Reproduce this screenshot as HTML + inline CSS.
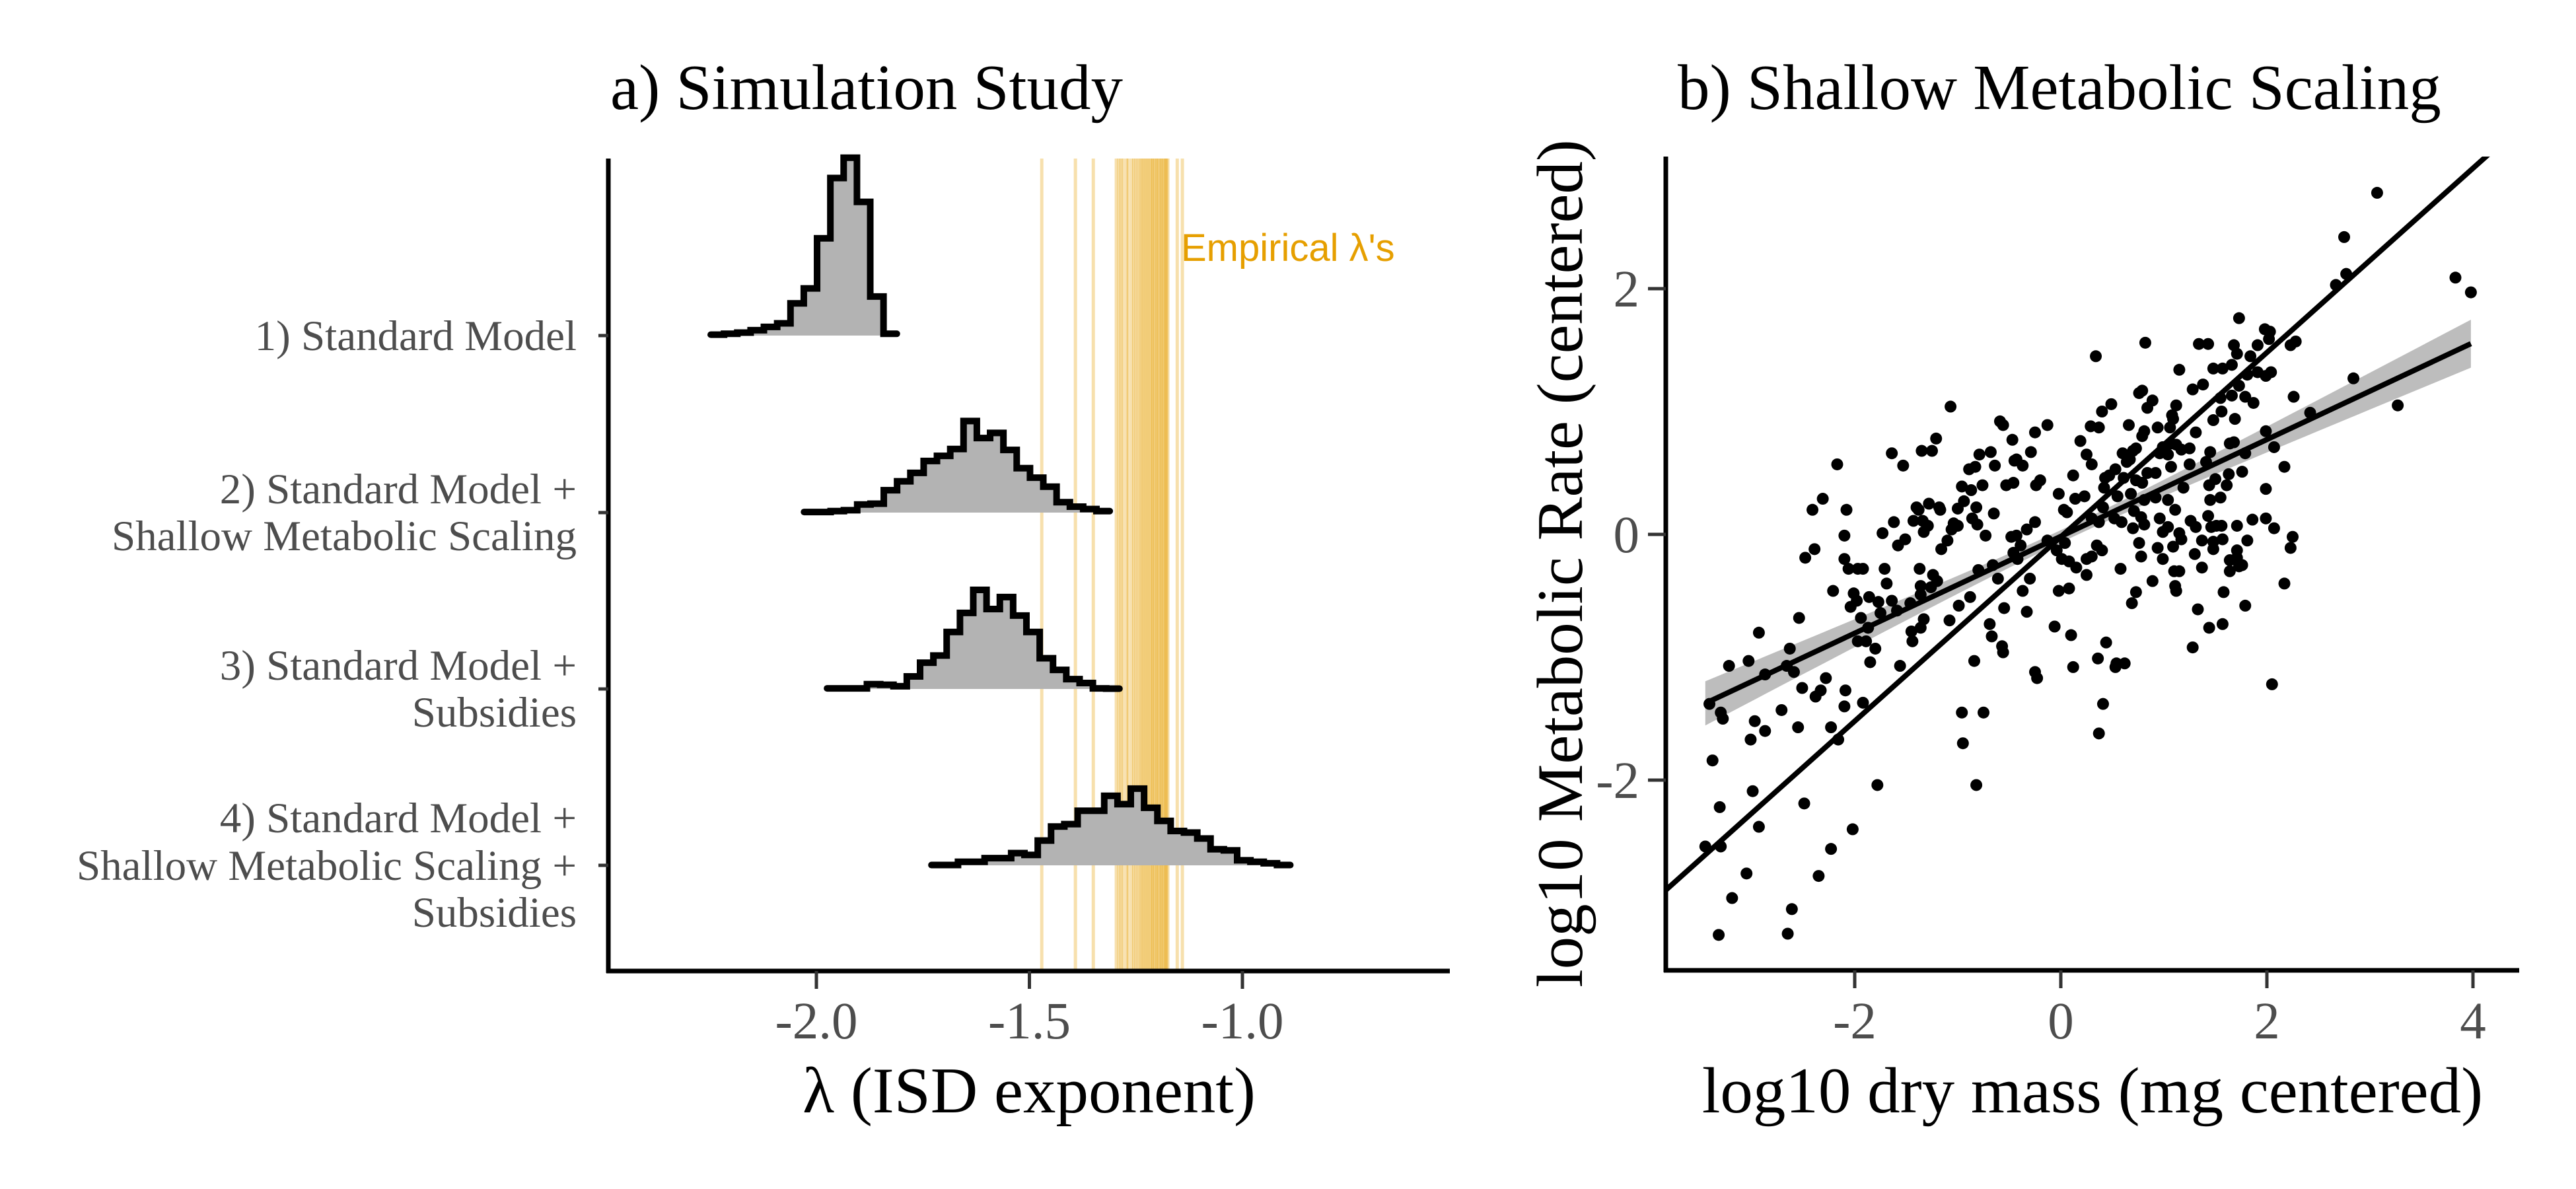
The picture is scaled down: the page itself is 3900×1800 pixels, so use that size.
<!DOCTYPE html>
<html><head><meta charset="utf-8"><style>
html,body{margin:0;padding:0;background:#fff;}
svg{display:block;}
text{font-family:"Liberation Serif",serif;}
</style></head><body>
<svg id="fig" width="3900" height="1800" viewBox="0 0 3900 1800" xmlns="http://www.w3.org/2000/svg">
<defs><clipPath id="clipB"><rect x="2522" y="237" width="1292" height="1232"/></clipPath></defs>
<text x="924" y="165" font-size="97" fill="#000">a) Simulation Study</text>
<text x="2540" y="165" font-size="97" fill="#000">b) Shallow Metabolic Scaling</text>
<g id="panelA"></g>
<g id="panelB"></g>
</svg>
<script>
// ---------- Panel A data ----------
const models = ["1) Standard Model","2) Standard Model +|Shallow Metabolic Scaling","3) Standard Model +|Subsidies","4) Standard Model +|Shallow Metabolic Scaling +|Subsidies"];
const binWidth = 0.0312;
const histStart = [-2.248, -2.029, -1.975, -1.730];
const hist1 = [3,6,10,18,29,41,108,158,326,528,596,448,131,6];
const hist2 = [2,2,5,8,27,30,75,105,133,173,190,213,307,250,267,210,149,117,87,35,20,12,5];
const hist3 = [2,2,2,16,14,9,42,88,112,191,255,332,268,308,246,191,103,64,33,20,2,1];
const hist4 = [1,1,12,12,24,24,41,35,83,130,138,183,183,233,205,257,193,149,115,110,90,54,50,17,12,7,1];
const empirical = [-1.471,-1.392,-1.350,-1.296,-1.29,-1.285,-1.28,-1.272,-1.268,-1.26,-1.255,-1.25,-1.245,-1.24,-1.236,-1.232,-1.228,-1.224,-1.22,-1.216,-1.212,-1.21,-1.206,-1.202,-1.2,-1.196,-1.192,-1.19,-1.186,-1.183,-1.18,-1.178,-1.175,-1.153,-1.141];
const xTicksA = [-2.0,-1.5,-1.0];
const xTickLabelsA = ["-2.0","-1.5","-1.0"];

// ---------- Panel B data ----------
const ptsX = [-3.41,-3.30,-3.28,-3.38,-3.31,-3.45,-3.30,-3.19,-3.32,-3.22,-3.03,-2.93,-2.97,-2.87,-3.01,-2.99,-2.93,-3.05,-2.87,-2.71,-2.66,-2.63,-2.59,-2.55,-2.51,-2.54,-2.48,-2.39,-2.41,-2.31,-2.38,-2.33,-2.28,-2.49,-2.61,-2.65,-2.35,-2.23,-2.23,-2.16,-2.21,-2.17,-2.08,-2.10,-2.10,-2.09,-2.10,-2.06,-2.04,-2.01,-2.02,-1.97,-1.98,-1.94,-1.92,-1.92,-1.97,-1.89,-1.87,-1.85,-1.80,-1.86,-1.77,-1.75,-1.73,-1.71,-1.69,-1.64,-1.64,-1.62,-1.59,-1.58,-1.56,-1.53,-1.51,-1.78,-1.46,-1.45,-1.44,-1.43,-1.40,-1.38,-1.36,-1.36,-1.37,-1.36,-1.35,-1.34,-1.33,-1.33,-1.29,-1.28,-1.26,-1.25,-1.24,-1.21,-1.20,-1.18,-1.17,-1.16,-1.10,-1.07,-1.08,-1.06,-1.04,-1.00,-1.00,-0.99,-0.96,-0.96,-0.95,-0.94,-0.89,-0.88,-0.87,-0.86,-0.84,-0.83,-0.82,-0.81,-0.82,-0.80,-0.79,-0.76,-0.75,-0.73,-0.69,-0.68,-0.67,-0.66,-0.65,-0.64,-0.61,-0.59,-0.56,-0.57,-0.56,-0.55,-0.53,-0.47,-0.46,-0.45,-0.46,-0.48,
-0.43,-0.37,-0.29,-0.25,-0.13,-0.24,-0.20,-0.33,-0.25,-0.43,-0.39,-0.42,-0.30,-0.37,-0.33,-0.25,-0.23,-0.13,-0.06,-0.02,0.03,0.06,0.04,-0.04,0.01,0.08,-0.02,0.08,0.10,0.12,0.12,0.14,0.15,0.19,0.23,0.25,0.30,0.29,0.37,0.40,0.49,0.30,0.37,0.25,0.30,0.25,0.35,0.40,0.42,0.43,0.47,0.41,0.53,0.55,0.52,0.59,0.58,0.61,0.60,0.64,0.66,0.67,0.70,0.73,0.76,0.79,0.84,0.89,0.81,0.79,0.73,0.79,0.84,0.92,0.68,0.81,0.92,0.71,0.78,0.81,0.70,0.76,0.78,0.82,0.34,0.94,0.96,0.99,1.04,1.06,1.08,1.09,1.12,1.07,1.12,1.17,1.25,1.07,1.04,1.11,0.96,0.99,1.04,1.09,1.15,1.17,0.99,0.94,1.10,1.15,1.11,1.12,0.89,0.73,0.69,1.15,1.19,1.25,1.31,1.26,1.31,1.30,1.28,1.33,1.37,1.37,1.34,1.43,1.38,1.28,1.41,1.45,1.48,1.50,1.44,1.45,1.43,1.46,1.48,1.48,1.44,1.51,1.56,1.57,1.57,1.58,1.55,1.61,1.63,1.64,1.68,1.69,1.55,1.56,1.66,1.48,1.57,1.66,1.68,1.71,1.73,1.73,1.79,1.87,1.81,1.91,1.84,1.91,1.99,2.04,1.98,2.03,2.02,2.07,1.99,1.99,1.99,2.07,2.17,2.26,2.23,2.28,1.79,1.76,1.71,1.86,1.81,1.71,1.71,1.64,1.73,1.76,1.64,1.79,2.25,2.23,2.17,2.05,0.37,0.41,0.44,0.36,0.53,0.54,0.62,2.42,2.67,2.77,2.75,3.07,2.84,3.27,3.83,3.98];
const ptsY = [-1.38,-1.45,-1.50,-1.84,-2.22,-2.54,-2.54,-2.96,-3.26,-1.07,-1.03,-0.80,-1.52,-1.60,-1.67,-2.09,-2.38,-2.76,-1.14,-1.43,-1.07,-0.93,-1.12,-1.57,-1.25,-0.68,-0.19,-0.12,0.20,0.29,-1.32,-1.27,-1.17,-2.19,-3.05,-3.25,-2.78,-2.56,-1.57,-1.67,-0.46,0.57,0.20,-0.01,-0.20,-1.27,-1.40,-0.28,-0.59,-0.48,-2.40,-0.28,-0.54,-0.68,-0.28,-1.37,-0.87,-0.87,-0.76,-1.04,-0.93,-0.51,-0.55,-0.64,0.01,-0.28,-0.40,0.66,-0.54,0.10,-0.62,-0.09,-1.07,0.56,-0.04,-2.04,-0.56,-0.79,-0.87,0.11,0.22,0.20,-0.42,-0.49,-0.28,-0.76,0.68,0.11,0.02,-0.69,0.07,0.25,-0.43,0.68,-0.33,0.78,-0.38,0.22,0.20,-0.12,-0.05,1.04,-0.70,0.04,0.09,0.07,0.21,-0.58,0.39,-1.45,-1.70,0.27,0.53,-0.51,0.36,0.13,-1.03,0.55,0.22,0.08,-2.04,-0.29,0.65,0.40,-1.45,-0.01,-0.73,0.67,-0.83,-0.25,0.17,0.56,-0.36,0.92,0.89,-0.91,-0.96,-0.60,0.40,0.77,0.42,0.60,-0.15,-0.02,
0.61,0.56,0.67,0.83,0.89,0.40,0.44,0.04,0.10,-0.01,-0.09,-0.20,-0.36,-0.46,-0.63,-1.12,-1.17,-0.05,-0.75,0.33,0.20,0.18,-0.07,-0.13,-0.20,-0.22,-0.46,-0.44,-0.82,-1.08,0.48,0.29,-0.27,0.76,0.31,0.65,0.57,0.88,0.87,1.00,1.06,0.13,0.10,-0.20,-0.18,-0.33,-0.09,-0.13,0.38,0.46,0.48,0.22,0.53,0.31,0.13,0.10,-0.28,0.46,0.66,0.59,0.89,0.61,0.68,0.70,1.15,1.17,1.03,1.09,0.84,0.80,0.44,0.42,0.50,0.50,0.33,0.28,0.30,0.19,0.14,0.08,0.05,-0.07,-0.18,1.56,1.45,0.87,0.66,0.71,0.65,0.87,0.97,0.94,1.05,0.74,0.73,0.69,0.70,0.55,0.28,0.20,0.13,0.02,0.06,-0.10,0.01,-0.04,-0.20,-0.11,-0.30,-0.30,-0.42,-0.46,-0.38,-0.47,-0.56,1.34,0.38,0.57,0.83,0.11,0.06,-0.16,-0.92,-0.61,-0.05,-0.27,1.55,1.55,1.22,1.18,0.59,0.67,0.93,0.45,0.40,0.28,0.15,0.06,-0.06,-0.12,-0.76,0.07,0.07,-0.04,-0.73,-0.47,0.30,0.40,0.49,0.74,0.75,0.94,1.11,1.00,1.13,1.35,1.35,1.38,1.54,1.47,1.76,1.21,1.12,1.07,1.30,1.32,1.45,1.54,1.29,1.32,1.67,1.65,1.59,0.71,0.84,0.37,0.13,0.05,0.55,1.12,1.54,1.57,0.66,0.51,0.07,0.12,-0.05,-0.13,-0.19,-0.21,-0.26,-0.25,-0.30,-0.58,-0.02,-0.11,-0.40,-1.22,-1.62,-1.38,-0.88,-1.01,-1.08,-1.05,-1.05,0.99,2.03,2.12,2.42,2.78,1.27,1.05,2.09,1.97];
const steepFit = [-0.02, 0.75];     // intercept, slope
const shallowFit = [-0.016, 0.394]; // intercept, slope
const seFit = [0.05, 0.0487, 0.1];   // se at mean, slope of se, mean x
const xTicksB = [-2,0,2,4];
const yTicksB = [-2,0,2];

const NS = "http://www.w3.org/2000/svg";
function mk(tag, attrs, parent){
  const e = document.createElementNS(NS, tag);
  for (const k in attrs) e.setAttribute(k, attrs[k]);
  parent.appendChild(e);
  return e;
}

// ---------- Panel A ----------
const A = document.getElementById('panelA');
const aLeft = 921, aRight = 2195, aTop = 240, aBottom = 1470;
const xA = l => 1236 + (l + 2.0) * 645;
const ridgeBase = [508, 776, 1043, 1310];
const densPx = 1 / 2.214;
const hists = [hist1, hist2, hist3, hist4];

empirical.forEach(v => {
  const ln = mk('line', {x1: xA(v), x2: xA(v), y1: aTop, y2: aBottom, stroke: '#E69F00', 'stroke-width': 5, 'stroke-opacity': 0.32}, A);
  
  
});
const emp = mk('text', {x: 1788, y: 395, 'font-size': 58, fill: '#E69F00', style: 'font-family:"Liberation Sans",sans-serif'}, A);
emp.textContent = "Empirical λ's";



hists.forEach((h, m) => {
  const base = ridgeBase[m];
  const s = histStart[m];
  let pts = [];
  pts.push([xA(s), base]);
  h.forEach((d, i) => {
    const y = base - d * densPx;
    pts.push([xA(s + i * binWidth), y]);
    pts.push([xA(s + (i + 1) * binWidth), y]);
  });
  const xe = xA(s + h.length * binWidth);
  pts.push([xe, base]);
  const poly = mk('polygon', {points: pts.map(p => p.join(',')).join(' '), fill: '#b3b3b3', stroke: 'none'}, A);
  
  
  const outline = mk('polyline', {points: pts.slice(1, -1).map(p => p.join(',')).join(' '), fill: 'none', stroke: '#000', 'stroke-width': 10, 'stroke-linejoin': 'miter', 'stroke-linecap': 'round'}, A);
  
  
});

const axA1 = mk('line', {x1: aLeft, x2: aLeft, y1: aTop, y2: aBottom + 3, stroke: '#000', 'stroke-width': 7}, A);


const axA2 = mk('line', {x1: aLeft - 3, x2: aRight, y1: aBottom, y2: aBottom, stroke: '#000', 'stroke-width': 7}, A);



models.forEach((lab, m) => {
  const t = ridgeBase[m];
  const tk = mk('line', {x1: aLeft - 15, x2: aLeft, y1: t, y2: t, stroke: '#333', 'stroke-width': 5}, A);
  
  
  const lines = lab.split('|');
  const offs = lines.length === 1 ? [22] : lines.length === 2 ? [-14, 57] : [-50, 22, 93];
  lines.forEach((ln, j) => {
    const tx = mk('text', {x: 873, y: t + offs[j], 'font-size': 65, fill: '#4d4d4d', 'text-anchor': 'end'}, A);
    tx.textContent = ln;
    
    
  });
});

xTicksA.forEach((v, i) => {
  const tk = mk('line', {x1: xA(v), x2: xA(v), y1: aBottom, y2: aBottom + 27, stroke: '#333', 'stroke-width': 5}, A);
  
  
  const tl = mk('text', {x: xA(v), y: 1572, 'font-size': 79, fill: '#4d4d4d', 'text-anchor': 'middle'}, A);
  tl.textContent = xTickLabelsA[i];
  
  
});
const xtA = mk('text', {x: (aLeft + aRight) / 2, y: 1684, 'font-size': 99, fill: '#000', 'text-anchor': 'middle'}, A);
xtA.textContent = 'λ (ISD exponent)';



// ---------- Panel B ----------
const B = document.getElementById('panelB');
const bLeft = 2522, bRight = 3814, bTop = 237, bBottom = 1469;
const xB = v => 3120 + v * 156;
const yB = v => 809 - v * 186;

const clipG = mk('g', {'clip-path': 'url(#clipB)'}, B);



const xmin = Math.min(...ptsX), xmax = Math.max(...ptsX);
let up = [], dn = [];
for (let k = 0; k <= 60; k++) {
  const x = xmin + (xmax - xmin) * k / 60;
  const f = shallowFit[0] + shallowFit[1] * x;
  const se = Math.sqrt(seFit[0] * seFit[0] + seFit[1] * seFit[1] * (x - seFit[2]) * (x - seFit[2]));
  up.push([xB(x), yB(f + se)]);
  dn.push([xB(x), yB(f - se)]);
}
const rib = mk('polygon', {points: up.concat(dn.reverse()).map(p => p.join(',')).join(' '), fill: '#bdbdbd'}, clipG);



ptsX.forEach((x, i) => {
  const c = mk('circle', {cx: xB(x), cy: yB(ptsY[i]), r: 9, fill: '#000'}, clipG);
  
  
});

const sl = mk('line', {x1: xB(xmin), y1: yB(shallowFit[0] + shallowFit[1] * xmin), x2: xB(xmax), y2: yB(shallowFit[0] + shallowFit[1] * xmax), stroke: '#000', 'stroke-width': 8}, clipG);


const x0 = -4.2, x1 = 4.6;
const st = mk('line', {x1: xB(x0), y1: yB(steepFit[0] + steepFit[1] * x0), x2: xB(x1), y2: yB(steepFit[0] + steepFit[1] * x1), stroke: '#000', 'stroke-width': 8}, clipG);



const axB1 = mk('line', {x1: bLeft, x2: bLeft, y1: bTop, y2: bBottom + 3, stroke: '#000', 'stroke-width': 7}, B);


const axB2 = mk('line', {x1: bLeft - 3, x2: bRight, y1: bBottom, y2: bBottom, stroke: '#000', 'stroke-width': 7}, B);



xTicksB.forEach(v => {
  const tk = mk('line', {x1: xB(v), x2: xB(v), y1: bBottom, y2: bBottom + 27, stroke: '#333', 'stroke-width': 5}, B);
  
  
  const tl = mk('text', {x: xB(v), y: 1572, 'font-size': 79, fill: '#4d4d4d', 'text-anchor': 'middle'}, B);
  tl.textContent = String(v);
  
  
});
yTicksB.forEach(v => {
  const tk = mk('line', {x1: bLeft - 27, x2: bLeft, y1: yB(v), y2: yB(v), stroke: '#333', 'stroke-width': 5}, B);
  
  
  const tl = mk('text', {x: 2482, y: yB(v) + 27, 'font-size': 79, fill: '#4d4d4d', 'text-anchor': 'end'}, B);
  tl.textContent = String(v);
  
  
});
const xtB = mk('text', {x: (bLeft + bRight) / 2, y: 1684, 'font-size': 99, fill: '#000', 'text-anchor': 'middle'}, B);
xtB.textContent = 'log10 dry mass (mg centered)';


const ytB = mk('text', {x: 0, y: 0, 'font-size': 99, fill: '#000', 'text-anchor': 'middle', transform: 'translate(2395,' + ((bTop + bBottom) / 2) + ') rotate(-90)'}, B);
ytB.textContent = 'log10 Metabolic Rate (centered)';


</script>
</body></html>
